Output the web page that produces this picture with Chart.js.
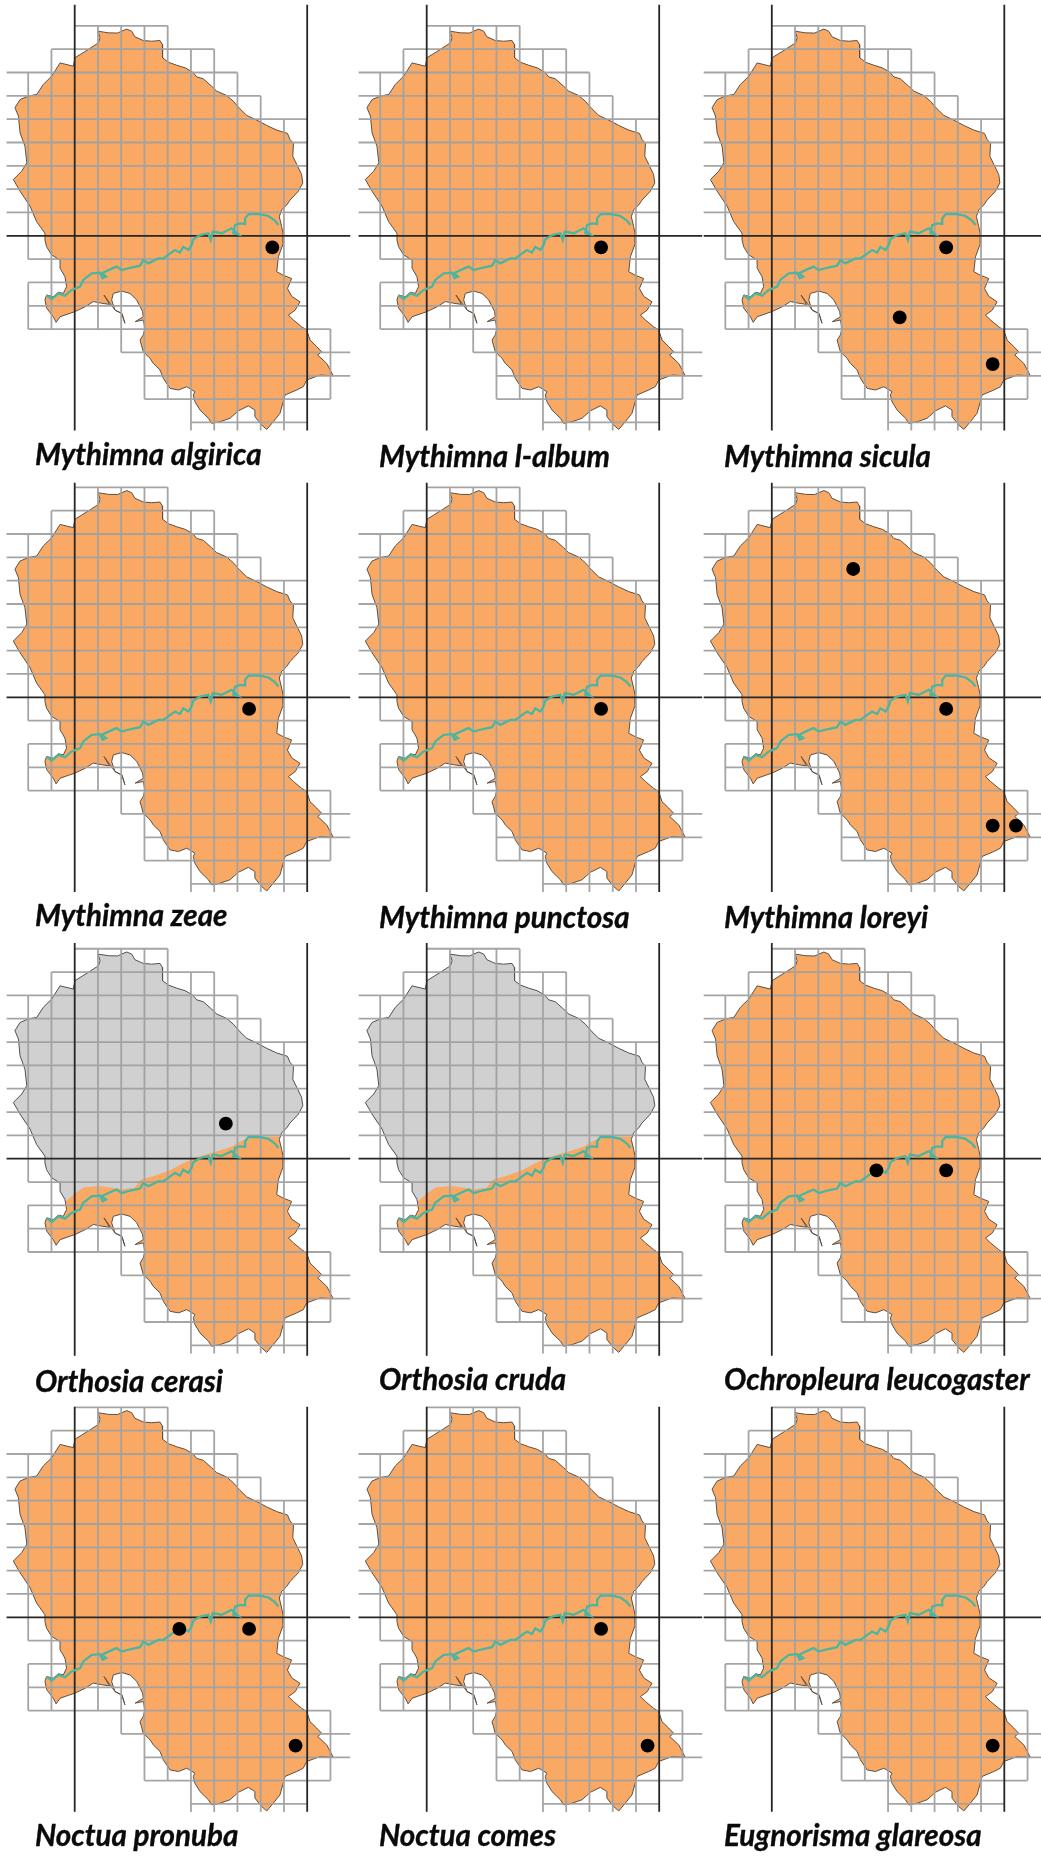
<!DOCTYPE html>
<html>
<head>
<meta charset="utf-8">
<title>Distribution maps</title>
<script src="https://cdn.jsdelivr.net/npm/chart.js@4/dist/chart.umd.min.js"></script>
<style>
  html, body { margin: 0; padding: 0; background: #fff; }
  #page { position: relative; width: 1041px; height: 1857px; overflow: hidden; }
  #page canvas { position: absolute; filter: blur(0.45px); }
  .name {
    position: absolute; white-space: nowrap; line-height: 1;
    font: italic 700 29.6px Lato, sans-serif; color: #0a0a0a; filter: blur(0.3px);
    -webkit-text-stroke: 0.35px #0a0a0a;
  }
</style>
</head>
<body>
<div id="page"></div>
<script>
// species, one per panel, left to right and top to bottom
var species = [
  "Mythimna algirica", "Mythimna l-album", "Mythimna sicula",
  "Mythimna zeae", "Mythimna punctosa", "Mythimna loreyi",
  "Orthosia cerasi", "Orthosia cruda", "Ochropleura leucogaster",
  "Noctua pronuba", "Noctua comes", "Eugnorisma glareosa"
];

// records per species, in grid cells (x east, y north, from the crossing of the black lines)
var recX = [
  [8.5], [7.5], [7.5, 5.5, 9.5],
  [7.5], [7.5], [3.5, 7.5, 9.5, 10.5],
  [6.5], [], [4.5, 7.5],
  [4.5, 7.5, 9.5], [7.5, 9.5], [9.5]
];
var recY = [
  [-0.5], [-0.5], [-0.5, -3.5, -5.5],
  [-0.5], [-0.5], [5.5, -0.5, -5.5, -5.5],
  [1.5], [], [-0.5, -0.5],
  [-0.5, -0.5, -5.5], [-0.5, -5.5], [-5.5]
];

// panels where the northern part of the province is greyed out
var greyPanels = [6, 7];

// province border, northern part (west to east over the top)
var borderNorth = [
  [-0.42,-1.75],[-0.63,-1.39],[-0.63,-1.04],[-0.99,-0.82],[-1.21,-0.47],[-1.28,-0.18],[-1.28,0.11],[-1.64,0.61],
  [-1.92,1.27],[-2.35,1.91],[-2.64,2.41],[-2.28,2.77],[-2.06,3.13],[-2.14,3.84],[-2.35,4.41],[-2.42,5.13],
  [-2.57,5.49],[-2.35,5.84],[-1.99,5.99],[-1.63,6.06],[-1.35,6.49],[-0.99,6.84],[-0.63,7.41],[-0.06,7.27],
  [0.01,7.63],[0.59,7.99],[1.02,8.27],[1.09,8.49],[1.00,8.77],[1.45,8.70],[1.84,8.69],[2.02,8.77],[2.24,8.86],
  [2.45,8.77],[2.59,8.53],[2.95,8.37],[3.31,8.34],[3.67,8.37],[3.77,8.20],[3.78,7.63],[4.03,7.44],[4.39,7.31],
  [4.75,7.20],[5.08,7.01],[5.25,6.81],[5.53,6.73],[5.89,6.41],[6.11,6.20],[6.54,6.01],[6.82,5.77],[7.11,5.44],
  [7.40,5.16],[7.83,4.96],[8.26,4.73],[8.69,4.53],[9.15,4.39],[9.26,4.13],[9.41,3.96],[9.38,3.41],[9.55,3.06],
  [9.76,2.63],[9.81,2.27],[9.62,1.91],[9.26,1.53],[9.12,1.32],[8.90,1.11]
];

// province border, southern part (east to west along the bottom)
var borderSouth = [
  [8.80,0.82],[8.90,0.40],[8.97,0.05],[8.97,-0.33],[8.76,-0.90],[8.69,-1.54],[8.97,-1.69],[9.33,-1.83],[9.15,-2.26],
  [9.33,-2.59],[9.69,-2.83],[9.48,-3.19],[9.19,-3.40],[9.41,-3.61],[9.76,-3.90],[9.98,-4.04],[10.12,-4.47],
  [10.41,-4.75],[10.62,-4.97],[10.45,-5.11],[10.84,-5.47],[11.12,-6.00],[10.55,-5.97],[9.98,-6.18],[9.83,-6.47],
  [9.55,-6.61],[9.05,-6.82],[8.97,-7.11],[8.83,-7.61],[8.54,-7.97],[8.26,-8.30],[8.04,-8.11],[7.75,-7.75],
  [7.75,-7.47],[7.47,-7.29],[7.04,-7.50],[6.68,-7.82],[6.25,-7.97],[5.89,-8.04],[5.75,-7.82],[5.39,-7.47],
  [5.17,-7.11],[5.10,-6.82],[5.17,-6.68],[4.82,-6.47],[4.46,-6.61],[4.10,-6.54],[3.81,-6.11],[3.67,-5.75],
  [3.38,-5.47],[3.24,-5.25],[2.95,-4.97],[2.81,-4.47],[2.95,-4.25],[3.02,-3.97],[2.95,-3.61],[2.60,-3.68],
  [2.95,-3.47],[2.92,-3.25],[2.67,-2.75],[2.38,-2.47],[2.02,-2.37],[1.66,-2.47],[1.59,-2.75],[1.73,-3.18],
  [2.02,-3.32],[2.16,-3.75],[2.04,-3.34],[1.75,-3.20],[1.54,-2.92],[1.26,-2.54],[1.50,-2.94],[1.16,-2.89],
  [0.80,-2.82],[0.45,-3.04],[0.01,-3.25],[-0.20,-3.32],[-0.63,-3.47],[-0.80,-3.71],[-0.92,-3.47],[-1.20,-3.11],
  [-1.28,-2.75],[-1.21,-2.54],[-0.92,-2.61],[-0.70,-2.42],[-0.49,-2.47],[-0.35,-2.18]
];

// limit of the grey zone, east to west, just north of the river
var greyEdge = [
  [8.80,0.94],[7.83,0.94],[7.25,0.80],[6.68,0.49],[5.96,0.27],[5.25,0.06],[4.60,-0.23],[4.10,-0.49],[3.53,-0.70],
  [2.81,-0.91],[2.59,-1.23],[2.09,-1.31],[1.52,-1.23],[1.09,-1.17],[0.37,-1.23],[0.01,-1.49],[-0.40,-1.85]
];

// the river, west to east
var river = [
  [-1.21,-2.54],[-0.99,-2.71],[-0.70,-2.47],[-0.42,-2.57],[-0.13,-2.32],[0.23,-2.18],[0.37,-1.89],[0.73,-1.61],
  [1.09,-1.58],[1.20,-1.82],[1.35,-1.75],[1.16,-1.61],[1.45,-1.47],[1.80,-1.32],[2.02,-1.47],[2.38,-1.37],
  [2.81,-1.28],[2.95,-1.04],[3.17,-1.18],[3.60,-0.97],[3.81,-0.97],[4.31,-0.61],[4.53,-0.72],[4.67,-0.47],
  [4.89,-0.61],[5.03,-0.39],[5.10,-0.15],[5.39,0.03],[5.75,0.11],[5.85,-0.18],[5.94,0.18],[6.32,0.11],[6.75,0.32],
  [7.04,0.06],[6.82,0.11],[6.90,0.46],[7.11,0.53],[7.33,0.51],[7.33,0.75],[7.48,0.93],[7.97,0.93],[8.33,0.85],
  [8.61,0.65],[8.76,0.46]
];

// grid lines: [y, fromX, toX]
var gridRows = [
  [9,0,4],[8,-1,6],[7,-2.93,7],[6,-2.93,8],[5,-2.93,10],[4,-2.93,10],[3,-2.93,10],[2,-2.93,10],[1,-2.93,10],
  [-1,-2,10],[-2,-2,10],[-3,-2,10],[-4,-2,11],[-5,2,11.85],[-6,3,11.85],[-7,3,11],[-8,5,10]
];
// grid lines: [x, fromY, toY]
var gridCols = [
  [-2,7,-1],[-2,-2,-4],[-1,8,-4],[1,9,-4],[2,9,-5],[3,9,-7],[4,9,-7],
  [5,8,-8.35],[6,8,-8.35],[7,7,-8.35],[8,6,-8.35],[9,5,-8.35],[11,-4,-7]
];

// black reference lines
var blackColsX = [0, 10];
var blackRowY = 0;
var blackRowFrom = -2.93;
var blackRowTo = 11.85;
var blackTop = [9.9, 9.2, 9.25, 9.03];
var blackBottom = [-8.35, -8.35, -8.45, -8.33];

// where each panel sits on the page
var colLeft = [74.7, 426.7, 771.8];
var rowZero = [235.8, 697.3, 1158.7, 1617.3];
var nameLeft = [35, 379, 724];
var nameBase = [
  [462, 464, 464],
  [923, 925, 925],
  [1389, 1387, 1387],
  [1843, 1843, 1843]
];
var cellW = 23.25, cellH = 23.33;
var boxW = 350, boxH = 446;

function toPoints(list) {
  return list.map(function (p) { return { x: p[0], y: p[1] }; });
}

// one path with breaks between the grid lines
function gridPoints() {
  var pts = [];
  gridRows.forEach(function (r) {
    pts.push({ x: r[1], y: r[0] }, { x: r[2], y: r[0] }, { x: null, y: null });
  });
  gridCols.forEach(function (c) {
    pts.push({ x: c[0], y: c[1] }, { x: c[0], y: c[2] }, { x: null, y: null });
  });
  return pts;
}

function blackPoints(row) {
  var pts = [
    { x: blackRowFrom, y: blackRowY }, { x: blackRowTo, y: blackRowY }, { x: null, y: null }
  ];
  blackColsX.forEach(function (x) {
    pts.push({ x: x, y: blackTop[row] }, { x: x, y: blackBottom[row] }, { x: null, y: null });
  });
  return pts;
}

function shape(points, fillColor, order) {
  return {
    data: toPoints(points), showLine: true, tension: 0, pointRadius: 0, borderWidth: 0,
    borderColor: fillColor, backgroundColor: fillColor, fill: 'shape', order: order
  };
}

function path(points, color, width, order) {
  return {
    data: points, showLine: true, tension: 0, pointRadius: 0, borderWidth: width,
    borderColor: color, fill: false, spanGaps: false, order: order
  };
}

var page = document.getElementById('page');

species.forEach(function (name, i) {
  var col = i % 3, row = Math.floor(i / 3);

  var left = Math.round(colLeft[col] - 70);
  var top = Math.round(rowZero[row] - 233);
  var canvas = document.createElement('canvas');
  canvas.width = boxW;
  canvas.height = boxH;
  canvas.style.left = left + 'px';
  canvas.style.top = top + 'px';
  canvas.style.width = boxW + 'px';
  canvas.style.height = boxH + 'px';
  page.appendChild(canvas);

  var label = document.createElement('div');
  label.className = 'name';
  label.textContent = name;
  label.style.left = nameLeft[col] + 'px';
  label.style.top = (nameBase[row][col] - 26) + 'px';
  page.appendChild(label);

  var xMin = (left - colLeft[col]) / cellW;
  var yMax = (rowZero[row] - top) / cellH;

  var datasets = [shape(borderNorth.concat(borderSouth), '#f9a964', 7)];
  if (greyPanels.indexOf(i) >= 0) {
    datasets.push(shape(borderNorth.concat(greyEdge), '#d0d0d0', 6));
  }
  var closed = borderNorth.concat(borderSouth, [borderNorth[0]]);
  datasets.push(path(toPoints(closed), '#5a5048', 1, 5));
  datasets.push(path(gridPoints(), 'rgba(160,160,160,0.95)', 1.8, 4));
  datasets.push(path(blackPoints(row), '#262626', 1.8, 3));
  datasets.push(path(toPoints(river), '#4cb5a0', 2.3, 2));
  datasets.push({
    data: recX[i].map(function (x, k) { return { x: x, y: recY[i][k] }; }),
    showLine: false, pointRadius: 6.9, borderWidth: 0, backgroundColor: '#000', order: 1
  });

  new Chart(canvas.getContext('2d'), {
    type: 'scatter',
    data: { datasets: datasets },
    options: {
      responsive: false,
      animation: false,
      events: [],
      layout: { padding: 0, autoPadding: false },
      plugins: { legend: { display: false }, tooltip: { enabled: false }, title: { display: false } },
      scales: {
        x: { type: 'linear', display: false, min: xMin, max: xMin + boxW / cellW },
        y: { type: 'linear', display: false, min: yMax - boxH / cellH, max: yMax }
      }
    }
  });
});
</script>
</body>
</html>
